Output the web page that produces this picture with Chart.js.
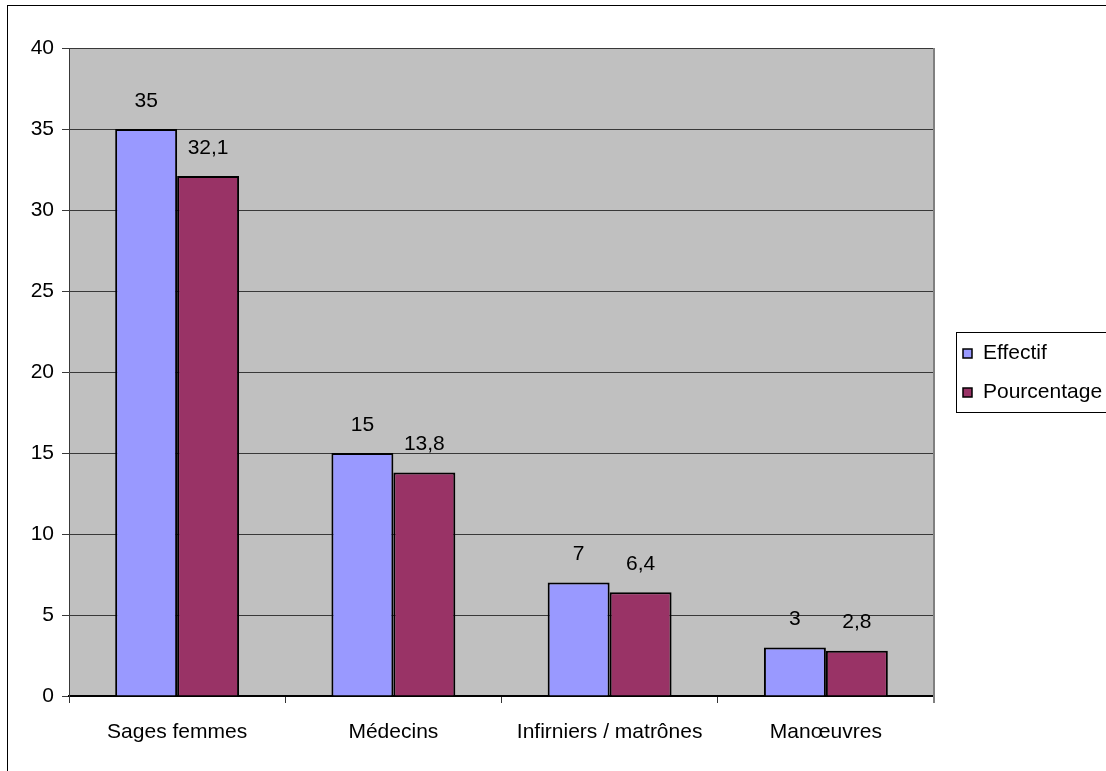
<!DOCTYPE html>
<html>
<head>
<meta charset="utf-8">
<script src="https://cdn.jsdelivr.net/npm/chart.js@4"></script>
<style>
html, body { margin: 0; padding: 0; background: #fff; }
#wrap { width: 1106px; height: 771px; }
</style>
</head>
<body>
<div id="wrap"><canvas id="chart" width="1106" height="771"></canvas></div>
<script>
const categories = ['Sages femmes', 'Médecins', 'Infirniers / matrônes', 'Manœuvres'];
const effectif = [35, 15, 7, 3];
const pourcentage = [32.1, 13.8, 6.4, 2.8];
const seriesNames = ['Effectif', 'Pourcentage'];
const seriesColors = ['#9999ff', '#993366'];

const FONT = '"Liberation Sans", Arial, sans-serif';
const TAILLE = 21;

// fond gris + cadre extérieur
const fondPlugin = {
    id: 'fond',
    beforeDraw(chart) {
        const { ctx, chartArea: a } = chart;
        ctx.save();
        ctx.fillStyle = '#ffffff';
        ctx.fillRect(0, 0, chart.width, chart.height);
        ctx.fillStyle = '#c0c0c0';
        ctx.fillRect(a.left, a.top, a.right - a.left, a.bottom - a.top);
        ctx.strokeStyle = '#000';
        ctx.lineWidth = 1;
        ctx.strokeRect(7.5, 5.5, 1300, 1000);
        ctx.restore();
    },
    afterDraw(chart) {
        const { ctx, chartArea: a } = chart;
        ctx.save();
        ctx.strokeStyle = '#808080';
        ctx.lineWidth = 2;
        ctx.beginPath();
        ctx.moveTo(a.right, a.top);
        ctx.lineTo(a.right, a.bottom + 7);
        ctx.stroke();
        ctx.restore();
    }
};

// étiquettes de valeurs au-dessus des barres
const etiquettesPlugin = {
    id: 'etiquettes',
    afterDatasetsDraw(chart) {
        const ctx = chart.ctx;
        ctx.save();
        ctx.font = TAILLE + 'px ' + FONT;
        ctx.fillStyle = '#000';
        ctx.textAlign = 'center';
        ctx.textBaseline = 'middle';
        chart.data.datasets.forEach((ds, i) => {
            chart.getDatasetMeta(i).data.forEach((bar, j) => {
                const txt = String(ds.data[j]).replace('.', ',');
                ctx.fillText(txt, bar.x, bar.y - 28);
            });
        });
        ctx.restore();
    }
};

// légende encadrée à droite
const legendePlugin = {
    id: 'legende',
    afterDraw(chart) {
        const ctx = chart.ctx;
        ctx.save();
        ctx.strokeStyle = '#000';
        ctx.lineWidth = 1;
        ctx.strokeRect(956.5, 332.5, 200, 80);
        ctx.font = TAILLE + 'px ' + FONT;
        ctx.textBaseline = 'middle';
        ctx.textAlign = 'left';
        chart.data.datasets.forEach((ds, i) => {
            const y = 353 + i * 39;
            ctx.fillStyle = ds.backgroundColor;
            ctx.fillRect(963, y - 4, 9, 9);
            ctx.strokeStyle = '#000';
            ctx.lineWidth = 1.5;
            ctx.strokeRect(963, y - 4, 9, 9);
            ctx.fillStyle = '#000';
            ctx.fillText(ds.label, 983, y);
        });
        ctx.restore();
    }
};

new Chart(document.getElementById('chart'), {
    type: 'bar',
    data: {
        labels: categories,
        datasets: [
            { label: seriesNames[0], data: effectif, backgroundColor: seriesColors[0], borderColor: '#000', borderWidth: 2 },
            { label: seriesNames[1], data: pourcentage, backgroundColor: seriesColors[1], borderColor: '#000', borderWidth: 2 }
        ]
    },
    options: {
        responsive: false,
        animation: false,
        devicePixelRatio: 1,
        categoryPercentage: 0.573,
        barPercentage: 1,
        layout: { padding: { top: 48, right: 172, left: 0, bottom: 0 } },
        plugins: {
            legend: { display: false },
            tooltip: { enabled: false }
        },
        scales: {
            x: {
                grid: { offset: true, drawOnChartArea: false, tickLength: 7, color: '#333', lineWidth: 1 },
                border: { color: '#000', width: 2 },
                ticks: { color: '#000', font: { size: TAILLE, family: FONT }, padding: 17 },
                afterFit(scale) { scale.height = 75; }
            },
            y: {
                min: 0,
                max: 40,
                ticks: { stepSize: 5, color: '#000', font: { size: TAILLE, family: FONT }, padding: 8 },
                grid: { color: '#383838', tickLength: 7, lineWidth: 1 },
                border: { color: '#383838', width: 1 },
                afterFit(scale) { scale.width = 69; }
            }
        }
    },
    plugins: [fondPlugin, etiquettesPlugin, legendePlugin]
});
</script>
</body>
</html>
